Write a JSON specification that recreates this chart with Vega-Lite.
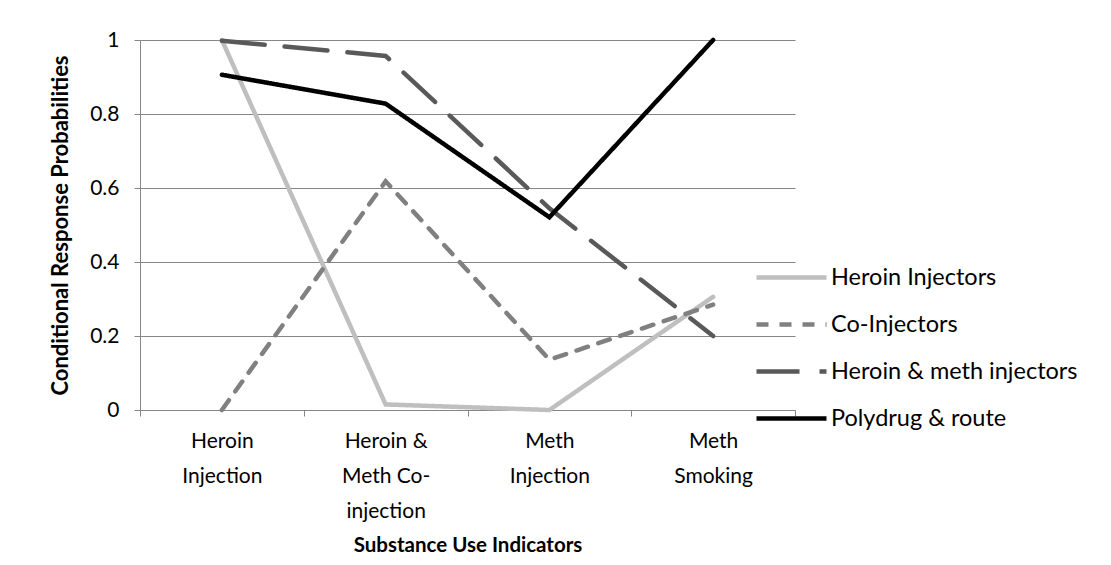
{
  "$schema": "https://vega.github.io/schema/vega-lite/v6.json",
  "autosize": {"type": "none"},
  "width": 655,
  "height": 370,
  "padding": {"left": 140, "top": 40, "right": 316, "bottom": 155},
  "background": "white",
  "config": {
    "font": "Lato",
    "view": {"stroke": null},
    "axis": {"labelFont": "Lato", "titleFont": "Lato", "labelColor": "black", "titleColor": "black"}
  },
  "data": {
    "values": [
      {"indicator": "Heroin Injection", "group": "Heroin Injectors", "p": 1.0},
      {"indicator": "Heroin & Meth Co-injection", "group": "Heroin Injectors", "p": 0.015},
      {"indicator": "Meth Injection", "group": "Heroin Injectors", "p": 0.0},
      {"indicator": "Meth Smoking", "group": "Heroin Injectors", "p": 0.306},
      {"indicator": "Heroin Injection", "group": "Co-Injectors", "p": 0.0},
      {"indicator": "Heroin & Meth Co-injection", "group": "Co-Injectors", "p": 0.618},
      {"indicator": "Meth Injection", "group": "Co-Injectors", "p": 0.136},
      {"indicator": "Meth Smoking", "group": "Co-Injectors", "p": 0.285},
      {"indicator": "Heroin Injection", "group": "Heroin & meth injectors", "p": 0.998},
      {"indicator": "Heroin & Meth Co-injection", "group": "Heroin & meth injectors", "p": 0.957},
      {"indicator": "Meth Injection", "group": "Heroin & meth injectors", "p": 0.545},
      {"indicator": "Meth Smoking", "group": "Heroin & meth injectors", "p": 0.2},
      {"indicator": "Heroin Injection", "group": "Polydrug & route", "p": 0.906},
      {"indicator": "Heroin & Meth Co-injection", "group": "Polydrug & route", "p": 0.828},
      {"indicator": "Meth Injection", "group": "Polydrug & route", "p": 0.521},
      {"indicator": "Meth Smoking", "group": "Polydrug & route", "p": 1.0}
    ]
  },
  "mark": {"type": "line", "strokeWidth": 4.5, "strokeCap": "round", "strokeJoin": "miter"},
  "encoding": {
    "x": {
      "field": "indicator",
      "type": "nominal",
      "sort": ["Heroin Injection", "Heroin & Meth Co-injection", "Meth Injection", "Meth Smoking"],
      "scale": {"type": "band", "paddingInner": 0, "paddingOuter": 0},
      "axis": {
        "title": "Substance Use Indicators",
        "titleFontSize": 20.5,
        "titleFontWeight": "bold",
        "titlePadding": 14,
        "labelAngle": 0,
        "labelFontSize": 21,
        "labelLineHeight": 35,
        "labelPadding": 14,
        "labelExpr": "!isValid(datum.value) ? '' : datum.value == 'Heroin & Meth Co-injection' ? ['Heroin &', 'Meth Co-', 'injection'] : split(datum.value, ' ')",
        "tickBand": "extent",
        "tickSize": 6,
        "tickColor": "#868686",
        "domainColor": "#868686",
        "grid": false
      }
    },
    "y": {
      "field": "p",
      "type": "quantitative",
      "scale": {"domain": [0, 1], "nice": false},
      "axis": {
        "title": "Conditional Response Probabilities",
        "titleFontSize": 22,
        "titleFontWeight": "bold",
        "titlePadding": 17,
        "values": [0, 0.2, 0.4, 0.6, 0.8, 1],
        "labelExpr": "datum.value == 0 ? '0' : datum.value == 1 ? '1' : format(datum.value, '.1f')",
        "labelFontSize": 21,
        "labelPadding": 15,
        "tickSize": 6,
        "tickColor": "#868686",
        "domainColor": "#868686",
        "gridColor": "#868686",
        "gridOpacity": 1
      }
    },
    "color": {
      "field": "group",
      "type": "nominal",
      "scale": {
        "domain": ["Heroin Injectors", "Co-Injectors", "Heroin & meth injectors", "Polydrug & route"],
        "range": ["#BFBFBF", "#808080", "#595959", "#000000"]
      },
      "legend": {
        "title": null,
        "orient": "none",
        "legendX": 614,
        "legendY": 215,
        "symbolType": "M-1,0H2.5",
        "symbolSize": 1600,
        "symbolStrokeWidth": 4.5,
        "symbolFillColor": "transparent",
        "labelFontSize": 23.5,
        "labelFont": "Lato",
        "labelColor": "black",
        "labelOffset": 32,
        "labelLimit": 400,
        "rowPadding": 13
      }
    },
    "strokeDash": {
      "field": "group",
      "type": "nominal",
      "scale": {
        "domain": ["Heroin Injectors", "Co-Injectors", "Heroin & meth injectors", "Polydrug & route"],
        "range": [[1, 0], [12, 11], [43, 20], [1, 0]]
      },
      "legend": null
    }
  }
}
